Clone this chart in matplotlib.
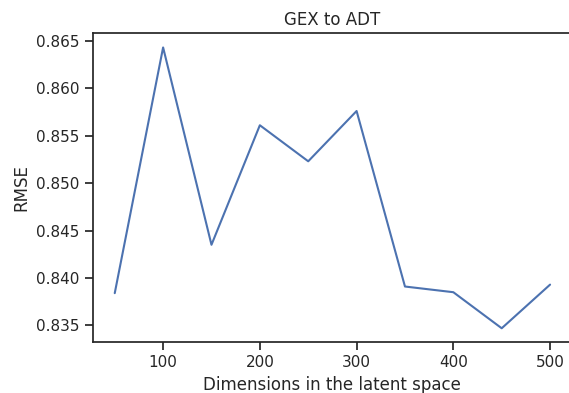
import matplotlib
matplotlib.use('Agg')
import matplotlib.pyplot as plt
import seaborn as sns

# latent space sizes and test RMSE
dims = [50, 100, 150, 200, 250, 300, 350, 400, 450, 500]
rmse = [0.8384, 0.8643, 0.8435, 0.8561, 0.8523, 0.8576, 0.8391, 0.8385, 0.8347, 0.8393]

sns.set_theme(style='ticks', context='notebook')

fig = plt.figure(figsize=(5.69, 3.93), dpi=100)
ax = fig.add_axes([0.1634, 0.129, 0.8416, 0.786])
ax.plot(dims, rmse, color=sns.color_palette('deep')[0])
ax.set_xlabel('Dimensions in the latent space')
ax.set_ylabel('RMSE')
ax.set_title('GEX to ADT')

fig.savefig('out.png', dpi=100)
